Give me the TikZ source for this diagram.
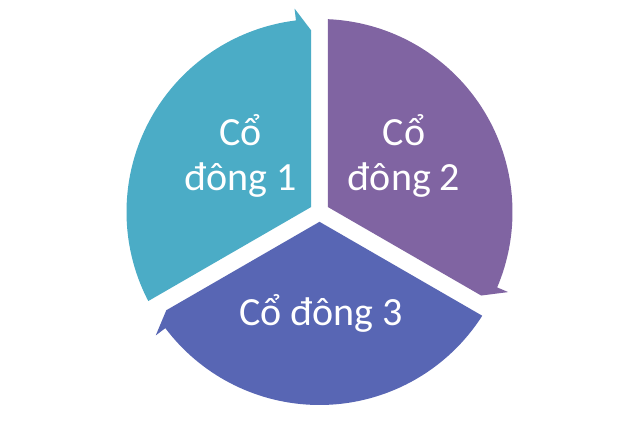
\documentclass[tikz,border=0pt]{standalone}
\usepackage{fontspec}
\setmainfont{Carlito}
\definecolor{cteal}{RGB}{75,172,198}
\definecolor{cpurple}{RGB}{128,100,162}
\definecolor{cblue}{RGB}{88,102,180}
\tikzset{
  segshape/.pic={
    \fill[#1] (-8.5,4.9) -- (207.48:193) arc[start angle=207.48, end angle=97, radius=193]
      -- (97:205) -- (-8.5,181.8) -- cycle;
  },
  lbl/.style={text=white, font=\fontsize{40}{45}\selectfont, align=center, inner sep=0pt}
}
\begin{document}
\begin{tikzpicture}[x=1pt,y=1pt]
\useasboundingbox (0,0) rectangle (640,427);
\fill[white] (0,0) rectangle (640,427);
\coordinate (C) at (319.5,215);
\pic[shift={(C)}] {segshape=cteal};
\pic[shift={(C)}, rotate=-120] {segshape=cpurple};
\pic[shift={(C)}, rotate=120] {segshape=cblue};
\node[lbl, anchor=base] (t1) at (240.5,236) {Cổ\\đông 1};
\node[lbl, anchor=base] (t2) at (404,236) {Cổ\\đông 2};
\node[lbl, anchor=base] (t3) at (321,101) {Cổ đông 3};
\end{tikzpicture}
\end{document}
